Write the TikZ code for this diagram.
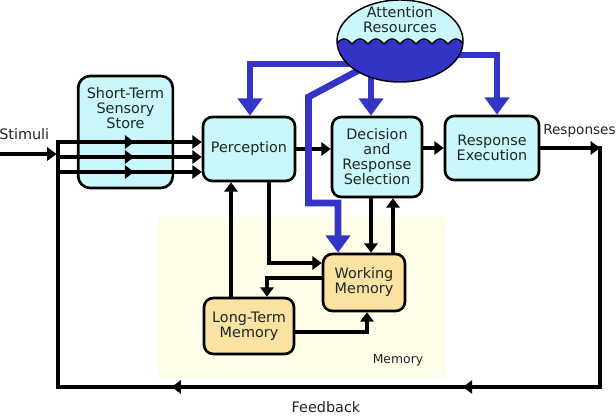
\documentclass[tikz,border=0pt]{standalone}
\usepackage{fontspec}
\setmainfont{DejaVu Sans}
\usepackage{tikz}
\usetikzlibrary{arrows.meta,calc,shapes.geometric,decorations.markings}
\definecolor{boxcyan}{HTML}{C9F7FA}
\definecolor{boxyellow}{HTML}{F9E2A2}
\definecolor{memyellow}{HTML}{FFFDE8}
\definecolor{attnblue}{HTML}{3434C6}
\definecolor{inkdark}{HTML}{1E2626}
\tikzset{
  stagebox/.style={draw=black, line width=2pt, rounded corners=7pt, fill=boxcyan, align=center, text=inkdark, font=\fontsize{10.8}{11.25}\selectfont, inner sep=2pt},
  memorybox/.style={stagebox, fill=boxyellow},
  flow/.style={line width=2.5pt, -{Triangle[length=7pt,width=10pt]}},
  wire/.style={line width=2.5pt},
  attnflow/.style={attnblue, line width=5pt, -{Triangle[length=13pt,width=18pt]}},
  midarrow/.style={postaction={decorate}, decoration={markings, mark=at position 0.53 with {\arrow{Triangle[length=7pt,width=10pt]}}}},
  feedbackmarks/.style={postaction={decorate}, decoration={markings, mark=at position 0.367 with {\arrow{Triangle[length=7pt,width=10pt]}}, mark=at position 0.65 with {\arrow{Triangle[length=7pt,width=10pt]}}}},
  tag/.style={text=inkdark, font=\fontsize{10.8}{11.25}\selectfont, inner sep=0pt, align=center}
}

\begin{document}
\begin{tikzpicture}[x=0.75pt, y=-0.75pt]
  \useasboundingbox (0,0) rectangle (616,416);
  \fill[memyellow] (158,217) rectangle (445,378);
  \node[tag, font=\fontsize{9.3}{10}\selectfont] (memlabel) at (398,360) {Memory};

  \node[stagebox, minimum width=71pt, minimum height=84pt, rounded corners=9pt] (stss) at (125.5,132) {};
  \node[tag, anchor=north] (stsstext) at (125.5,87) {Short-Term\\Sensory\\Store};
  \node[stagebox, minimum width=69pt, minimum height=48pt] (perc) at (249,149) {Perception};
  \node[stagebox, minimum width=67.5pt, minimum height=60pt] (dec) at (377,157) {Decision\\and\\Response\\Selection};
  \node[stagebox, minimum width=70.5pt, minimum height=48pt] (resp) at (492,148) {Response\\Execution};
  \node[memorybox, minimum width=61.5pt, minimum height=42.75pt] (wm) at (364,282.5) {Working\\Memory};
  \node[memorybox, minimum width=67.5pt, minimum height=42pt] (ltm) at (249,326) {Long-Term\\Memory};
  \node[ellipse, minimum width=94.5pt, minimum height=61.5pt, inner sep=0pt] (attn) at (400,41) {};

  \node[tag, anchor=west] (stimtext) at (-1,134) {Stimuli};
  \node[tag, anchor=west, font=\fontsize{10.2}{11}\selectfont] (resptext) at (543,131) {Responses};
  \node[tag] (fbtext) at (326,407) {Feedback};

  \coordinate (stimin) at (0,154);
  \coordinate (barjoin) at (56.5,154);
  \coordinate (bartop) at (58,142);
  \coordinate (respout) at (600,148);
  \coordinate (fbright) at (600,387);
  \coordinate (fbleft) at (58,387);

  \draw[flow] (stimin) -- (barjoin);
  \foreach \y in {142,157,172}
    \draw[flow, midarrow] (bartop |- 0,\y) -- (perc.west |- 0,\y);
  \draw[flow] (perc.east) -- (dec.west |- perc.east);
  \draw[flow] (dec.east |- resp.west) -- (resp.west);
  \draw[flow] (resp.east) -- (respout);
  \draw[wire, feedbackmarks] ([yshift=1.25pt]respout) -- (fbright) -- (fbleft) -- ([yshift=1.25pt]bartop);

  \draw[flow] (perc.south -| 269,0) |- (wm.west |- 0,263);
  \draw[flow] (ltm.north -| 231,0) -- (perc.south -| 231,0);
  \draw[flow] (wm.west |- 0,278) -| (ltm.north -| 267,0);
  \draw[flow] (ltm.east |- 0,332) -| (wm.south -| 367,0);
  \draw[flow] (dec.south -| 371,0) -- (wm.north -| 371,0);
  \draw[flow] (wm.north -| 393,0) -- (dec.south -| 393,0);

  \draw[attnflow] ($(attn.center)+(0,23)$) -| (perc.north -| 250,0);
  \draw[attnflow] (attn.center -| 371,0) -- (dec.north -| 371,0);
  \draw[attnflow] ($(attn.center)+(0,14)$) -| (resp.north -| 497,0);
  \draw[attnflow] ($(attn.center)+(-24,20)$) -- (308.5,97) |- (338,203) -- (wm.north -| 338,0);

  \begin{scope}
    \clip (attn.center) ellipse [x radius=47.25pt, y radius=30.75pt];
    \fill[boxcyan] (attn.center) ellipse [x radius=47.25pt, y radius=30.75pt];
    \fill[attnblue] plot[domain=330:470, samples=141] (\x, {44-5*abs(sin(11.25*(\x-336)))}) -- (470,90) -- (330,90) -- cycle;
    \draw[line width=1pt] plot[domain=330:470, samples=141] (\x, {44-5*abs(sin(11.25*(\x-336)))});
  \end{scope}
  \draw[line width=1.1pt] (attn.center) ellipse [x radius=47.25pt, y radius=30.75pt];
  \node[tag] (attntext) at (400,20) {Attention\\Resources};
\end{tikzpicture}
\end{document}
